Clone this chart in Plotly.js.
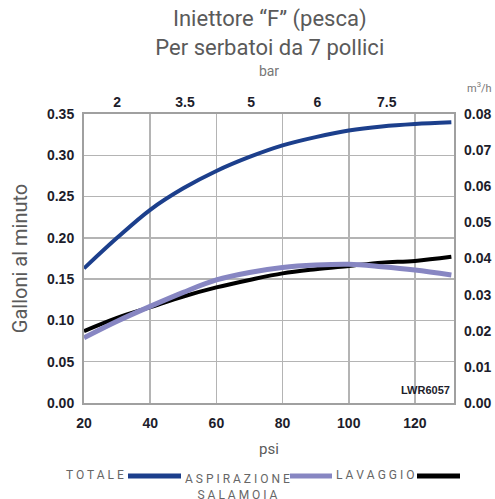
<!DOCTYPE html>
<html>
<head>
<meta charset="utf-8">
<script src="https://cdn.plot.ly/plotly-3.0.1.min.js"></script>
<style>html,body{margin:0;padding:0;background:#fff;}#chart{width:495px;height:499px;}</style>
</head>
<body>
<div id="chart"></div>
<script>
// Pressure (psi) sample points
const psi = [20, 30, 40, 50, 60, 70, 80, 90, 100, 110, 120, 131];
// Flow in gallons per minute
const totale = [0.163, 0.200, 0.234, 0.260, 0.281, 0.298, 0.312, 0.322, 0.330, 0.335, 0.338, 0.340];
const aspirazione = [0.079, 0.099, 0.117, 0.134, 0.149, 0.158, 0.164, 0.167, 0.168, 0.165, 0.161, 0.155];
const lavaggio = [0.087, 0.103, 0.116, 0.129, 0.140, 0.149, 0.157, 0.162, 0.166, 0.170, 0.172, 0.177];
// Axis ticks
const psiTicks = [20, 40, 60, 80, 100, 120];
const gpmTicks = [0, 0.05, 0.10, 0.15, 0.20, 0.25, 0.30, 0.35];
const m3hTicks = [0, 0.01, 0.02, 0.03, 0.04, 0.05, 0.06, 0.07, 0.08];
const barTickPos = [30, 50.5, 70.5, 90.5, 111.5];
const barTickText = ['2', '3.5', '5', '6', '7.5'];

const tickFont = {family: 'Liberation Sans Narrow, Arial Narrow, sans-serif', size: 14, color: '#1d1d2b', weight: 'bold'};
const grayText = '#5a5a5a';

const data = [
  {x: psi, y: lavaggio, name: 'LAVAGGIO', mode: 'lines', line: {color: '#000000', width: 4, shape: 'spline'}},
  {x: psi, y: aspirazione, name: 'ASPIRAZIONE SALAMOIA', mode: 'lines', line: {color: '#8786c2', width: 5, shape: 'spline'}},
  {x: psi, y: totale, name: 'TOTALE', mode: 'lines', line: {color: '#1c3f8c', width: 4, shape: 'spline'}},
  // empty trace so the secondary (bar / m3/h) axes are created
  {x: [], y: [], xaxis: 'x2', yaxis: 'y2', mode: 'lines', showlegend: false, hoverinfo: 'skip'}
];

const L = 84, W = 370, B = 403, H = 289;
const px = v => (v - L) / W;
const py = v => (B - v) / H;

const layout = {
  width: 495, height: 499,
  margin: {l: 84, r: 41, t: 114, b: 96},
  paper_bgcolor: '#ffffff', plot_bgcolor: '#ffffff',
  showlegend: false,
  title: {
    text: 'Iniettore “F” (pesca)<br>Per serbatoi da 7 pollici',
    x: 0.545, xanchor: 'center', y: 0.947, yanchor: 'top',
    font: {family: 'Roboto, sans-serif', size: 22, color: grayText}
  },
  xaxis: {
    range: [20, 131.8], tickvals: psiTicks, ticks: '', tickfont: tickFont, ticklabelstandoff: 6,
    showgrid: true, gridcolor: '#b4b4b4', gridwidth: 1.5,
    showline: true, linecolor: '#a0a0a0', linewidth: 2, mirror: true,
    zeroline: false,
    title: {text: 'psi', font: {family: 'Roboto, sans-serif', size: 15, color: grayText}, standoff: 14}
  },
  xaxis2: {
    overlaying: 'x', side: 'top', anchor: 'y', range: [20, 131.8],
    tickvals: barTickPos, ticktext: barTickText, ticks: '', tickfont: tickFont, ticklabelstandoff: 3,
    showgrid: false, zeroline: false, showline: false,
    title: {text: 'bar', font: {family: 'Roboto, sans-serif', size: 14, color: '#777'}, standoff: 14}
  },
  yaxis: {
    range: [0, 0.35], tickvals: gpmTicks, tickformat: '.2f', ticks: '', tickfont: tickFont, ticklabelstandoff: 5,
    showgrid: true, gridcolor: '#b4b4b4', gridwidth: 1.5,
    showline: true, linecolor: '#a0a0a0', linewidth: 2, mirror: true,
    zeroline: false,
    title: {text: 'Galloni al minuto', font: {family: 'Roboto, sans-serif', size: 20, color: grayText}, standoff: 14}
  },
  yaxis2: {
    overlaying: 'y', side: 'right', anchor: 'x', range: [0, 0.08],
    tickvals: m3hTicks, tickformat: '.2f', ticks: '', tickfont: tickFont, ticklabelstandoff: 9,
    showgrid: false, zeroline: false, showline: false
  },
  annotations: [
    {xref: 'paper', yref: 'paper', x: px(494), y: py(97), xanchor: 'right', yanchor: 'bottom', showarrow: false,
     text: 'm<sup>3</sup>/h', font: {family: 'Roboto, sans-serif', size: 11, color: '#777'}},
    {xref: 'paper', yref: 'paper', x: px(452), y: py(398), xanchor: 'right', yanchor: 'bottom', showarrow: false,
     text: '<b>LWR6057</b>', font: {family: 'Liberation Sans Narrow, sans-serif', size: 11, color: '#1d1d2b'}},
    {xref: 'paper', yref: 'paper', x: px(126), y: py(475), xanchor: 'right', yanchor: 'middle', showarrow: false,
     text: 'T O T A L E', font: {family: 'Roboto, sans-serif', size: 12, color: '#666'}},
    {xref: 'paper', yref: 'paper', x: px(237), y: py(470), xanchor: 'center', yanchor: 'top', showarrow: false,
     text: 'A S P I R A Z I O N E<br>S A L A M O I A', font: {family: 'Roboto, sans-serif', size: 12, color: '#666'}},
    {xref: 'paper', yref: 'paper', x: px(416), y: py(475), xanchor: 'right', yanchor: 'middle', showarrow: false,
     text: 'L A V A G G I O', font: {family: 'Roboto, sans-serif', size: 12, color: '#666'}}
  ],
  shapes: [
    {type: 'line', xref: 'paper', yref: 'paper', x0: px(128), x1: px(181), y0: py(476), y1: py(476), line: {color: '#1c3f8c', width: 5}},
    {type: 'line', xref: 'paper', yref: 'paper', x0: px(290), x1: px(332), y0: py(476), y1: py(476), line: {color: '#8786c2', width: 5}},
    {type: 'line', xref: 'paper', yref: 'paper', x0: px(417), x1: px(460), y0: py(476), y1: py(476), line: {color: '#000000', width: 5}}
  ]
};

Plotly.newPlot('chart', data, layout, {displayModeBar: false, staticPlot: true});
</script>
</body>
</html>
